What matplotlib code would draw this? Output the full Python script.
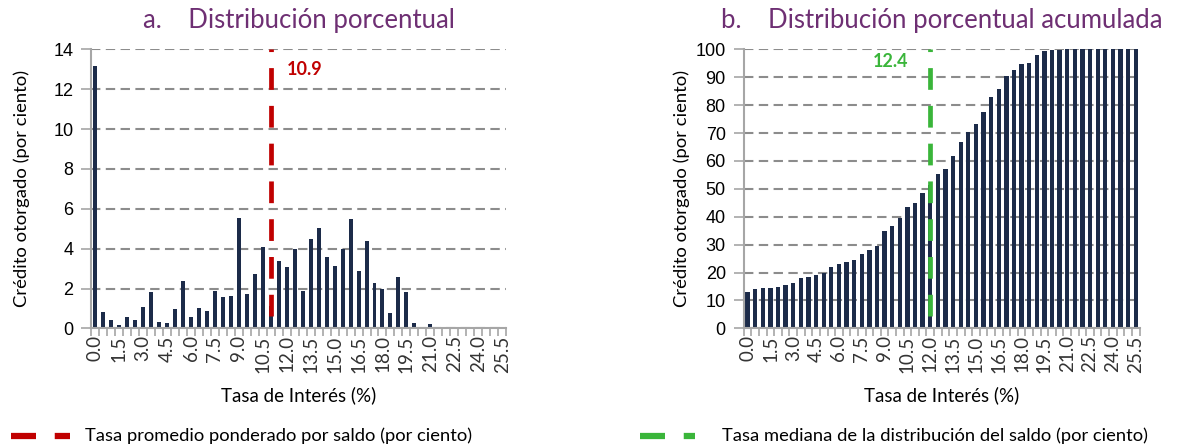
import matplotlib.pyplot as plt
import numpy as np

# tasas de interes (categorias cada 0.5)
rates = [f"{r:.1f}" for r in np.arange(0, 26, 0.5)]

# a. distribucion porcentual (por ciento)
dist = [13.14, 0.83, 0.42, 0.18, 0.58, 0.43, 1.05, 1.80, 0.33, 0.25,
        0.95, 2.40, 0.57, 1.00, 0.87, 1.89, 1.59, 1.60, 5.53, 1.70,
        2.74, 4.06, 1.10, 3.36, 3.07, 3.96, 1.89, 4.46, 5.04, 3.57,
        3.12, 3.99, 5.48, 2.87, 4.37, 2.27, 1.97, 0.75, 2.59, 1.84,
        0.25, 0.00, 0.20, 0.00, 0.02, 0.00, 0.00, 0.00, 0.00, 0.00,
        0.00, 0.00]

# b. distribucion acumulada (por ciento)
cum = [12.9, 14.1, 14.6, 14.6, 14.9, 15.4, 16.4, 18.2, 18.5, 19.0,
       19.7, 22.1, 22.9, 23.9, 24.5, 26.5, 28.2, 29.6, 35.0, 36.8,
       39.4, 43.6, 44.9, 48.4, 51.2, 55.3, 57.2, 61.9, 66.7, 70.3,
       73.4, 77.7, 82.8, 85.9, 90.3, 92.5, 94.6, 95.2, 97.8, 99.4,
       99.8, 99.8, 100, 100, 100, 100, 100, 100, 100, 100,
       100, 100]

mean_rate = 10.9
median_rate = 12.4

BAR = '#1C2B49'
RED = '#C00000'
GREEN = '#3AB53A'
PURPLE = '#6E2F73'
GRID = '#8C8C8C'
AXIS = '#A6A6A6'
FONT = 'Lato'


def style_axis(ax, ymax, ystep, ypad):
    n = len(rates)
    ax.set_xlim(-0.5, n - 0.5)
    ax.set_ylim(0, ymax)
    ax.set_yticks(np.arange(0, ymax + 1, ystep))
    ax.yaxis.grid(True, color=GRID, linestyle=(0, (4.5, 2.6)), linewidth=1.5)
    ax.set_axisbelow(True)
    for s in ['top', 'right']:
        ax.spines[s].set_visible(False)
    for s in ['left', 'bottom']:
        ax.spines[s].set_color(AXIS)
        ax.spines[s].set_linewidth(1.5)
    ax.set_xticks(np.arange(0, n, 3))
    ax.set_xticklabels(rates[::3], rotation=90, fontsize=13.5, family=FONT,
                       color='#333333')
    ax.set_xticks(np.arange(-0.5, n, 1), minor=True)
    ax.tick_params(axis='x', which='major', length=0, pad=5)
    ax.tick_params(axis='x', which='minor', length=6, width=1.2, color=AXIS)
    ax.tick_params(axis='y', length=7, width=1.2, color=AXIS, pad=6,
                   labelsize=13)
    for lab in ax.get_yticklabels():
        lab.set_family('Liberation Sans')
    ax.set_xlabel('Tasa de Interés (%)', fontsize=13.5, family=FONT,
                  labelpad=10)
    ax.set_ylabel('Crédito otorgado (por ciento)', fontsize=13.3, family=FONT,
                  labelpad=ypad)


fig = plt.figure(figsize=(11.92, 4.48), dpi=100)
ax1 = fig.add_axes([0.0766, 0.267, 0.348, 0.623])
ax2 = fig.add_axes([0.624, 0.267, 0.332, 0.623])

x = np.arange(len(rates))

# panel a
ax1.bar(x, dist, width=0.5, color=BAR, zorder=2)
style_axis(ax1, 14, 2, 17)
ax1.plot([22, 22], [0.6, 14], color=RED, linewidth=3.4,
         linestyle=(0, (4.6, 3.4)), zorder=3, clip_on=False)
ax1.text(24.0, 13.0, f"{mean_rate}", color=RED, fontsize=13,
         fontweight='bold', family=FONT, va='center')
ax1.set_title('a.    Distribución porcentual', color=PURPLE, fontsize=18.5,
              family=FONT, pad=15)

# panel b
ax2.bar(x, cum, width=0.57, color=BAR, zorder=2)
style_axis(ax2, 100, 10, 4)
ax2.plot([24, 24], [4.6, 100], color=GREEN, linewidth=3.4,
         linestyle=(0, (4.6, 3.4)), zorder=3, clip_on=False)
ax2.text(16.5, 95.5, f"{median_rate}", color=GREEN, fontsize=13,
         fontweight='bold', family=FONT, va='center')
ax2.set_title('b.    Distribución porcentual acumulada', color=PURPLE,
              fontsize=18.5, family=FONT, pad=15)

# leyendas
fig.add_artist(plt.Line2D([0.009, 0.059], [0.027, 0.027], color=RED,
                          linewidth=4.5, linestyle=(0, (4, 3))))
fig.text(0.071, 0.027, 'Tasa promedio ponderado por saldo (por ciento)',
         fontsize=13.2, family=FONT, va='center')
fig.add_artist(plt.Line2D([0.537, 0.583], [0.027, 0.027], color=GREEN,
                          linewidth=4.5, linestyle=(0, (4, 3))))
fig.text(0.606, 0.027, 'Tasa mediana de la distribución del saldo (por ciento)',
         fontsize=13.2, family=FONT, va='center')

plt.savefig('out.png', dpi=100)
